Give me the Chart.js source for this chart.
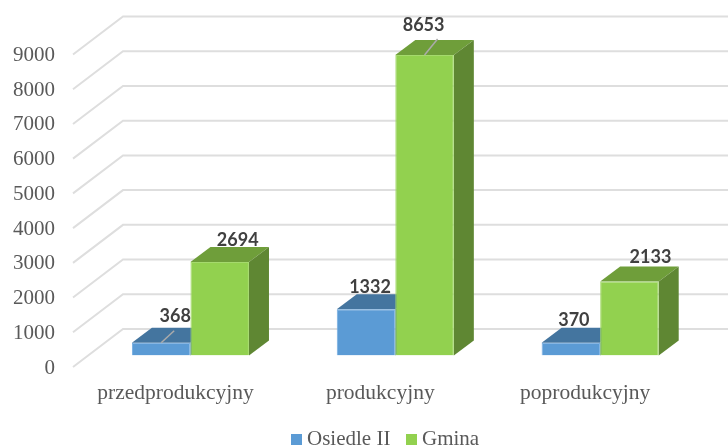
<!DOCTYPE html>
<html><head><meta charset="utf-8">
<style>html,body{margin:0;padding:0;background:#fff;overflow:hidden}#w{width:728px;height:446px}</style>
<script src="https://cdn.jsdelivr.net/npm/chart.js@4"></script></head>
<body><div id="w"><canvas id="c" width="728" height="446"></canvas></div>
<script>
const categories = ['przedprodukcyjny', 'produkcyjny', 'poprodukcyjny'];
const osiedle = [368, 1332, 370];
const gmina = [2694, 8653, 2133];
const seriesNames = ['Osiedle II', 'Gmina'];
const labelNudge = [
  [[14, -27], [4, -22], [3, -22]],
  [[18, -22], [-1, -30], [21, -24]]
];
const leaders = [[12, 0, 0], [0, 16, 0]];
const DX = 20, DY = -15;
const FACES = [{top:'#44759f', side:'#44759f'}, {top:'#6f9e3a', side:'#5f8733'}];
const SERIF = '"Liberation Serif", serif';

const cube = {
  id: 'cube',
  beforeDatasetsDraw(chart) {
    const ctx = chart.ctx, y = chart.scales.y;
    ctx.save();
    ctx.strokeStyle = '#dedede'; ctx.lineWidth = 2;
    y.ticks.forEach(t => {
      const p = y.getPixelForValue(t.value);
      ctx.beginPath();
      ctx.moveTo(73, p + 11.5);
      ctx.lineTo(123, p - 26.5);
      ctx.lineTo(728, p - 26.5);
      ctx.stroke();
    });
    chart.data.datasets.forEach((d, i) => {
      chart.getDatasetMeta(i).data.forEach(b => {
        const l = b.x - b.width / 2, r = b.x + b.width / 2, t = b.y, base = b.base;
        ctx.fillStyle = FACES[i].top;
        ctx.beginPath();
        ctx.moveTo(l, t); ctx.lineTo(l + DX, t + DY); ctx.lineTo(r + DX, t + DY); ctx.lineTo(r, t);
        ctx.closePath(); ctx.fill();
        ctx.fillStyle = FACES[i].side;
        ctx.beginPath();
        ctx.moveTo(r, t); ctx.lineTo(r + DX, t + DY); ctx.lineTo(r + DX, base + DY); ctx.lineTo(r, base);
        ctx.closePath(); ctx.fill();
      });
    });
    ctx.restore();
  },
  afterDatasetsDraw(chart) {
    const ctx = chart.ctx;
    ctx.save();
    chart.data.datasets.forEach((d, i) => {
      chart.getDatasetMeta(i).data.forEach((b, j) => {
        if (leaders[i][j]) {
          ctx.strokeStyle = '#ababab'; ctx.lineWidth = 1.5;
          ctx.beginPath();
          ctx.moveTo(b.x, b.y);
          ctx.lineTo(b.x + 13, b.y - leaders[i][j]);
          ctx.stroke();
        }
        const [nx, ny] = labelNudge[i][j];
        ctx.fillStyle = '#404040';
        ctx.font = 'bold 18px Lato, "Open Sans", sans-serif';
        ctx.textAlign = 'center'; ctx.textBaseline = 'middle';
        ctx.fillText(String(d.data[j]), b.x + nx, b.y + ny);
      });
    });
    ctx.restore();
  },
  afterDraw(chart) {
    const ctx = chart.ctx;
    ctx.save();
    ctx.font = '21px ' + SERIF;
    ctx.textBaseline = 'middle';
    let x = 291;
    chart.data.datasets.forEach(d => {
      ctx.fillStyle = d.backgroundColor;
      ctx.fillRect(x, 434, 11, 11);
      ctx.fillStyle = '#595959';
      ctx.fillText(d.label, x + 16, 439);
      x += 115;
    });
    ctx.restore();
  }
};

new Chart(document.getElementById('c'), {
  type: 'bar',
  plugins: [cube],
  data: {
    labels: categories,
    datasets: [
      {label: seriesNames[0], data: osiedle, backgroundColor: '#5b9bd5', borderColor: '#74ace0', borderWidth: 1},
      {label: seriesNames[1], data: gmina, backgroundColor: '#92d14f', borderColor: '#a5da6d', borderWidth: 1}
    ]
  },
  options: {
    responsive: false,
    animation: false,
    layout: {padding: {left: 0, right: 25.4, top: 43, bottom: 0}},
    datasets: {bar: {categoryPercentage: 0.5715, barPercentage: 1}},
    plugins: {tooltip: {enabled: false}, legend: {display: false}},
    scales: {
      x: {
        grid: {display: false, drawTicks: false}, border: {display: false},
        afterFit: s => { s.height = 90.5; },
        ticks: {labelOffset: -15, padding: 25, color: '#595959', maxRotation: 0,
                font: {family: SERIF, size: 21.5}}
      },
      y: {
        min: 0, max: 9000,
        grid: {display: false, drawTicks: false}, border: {display: false},
        afterFit: s => { s.width = 88; s.paddingTop = 0; s.paddingBottom = 0; },
        ticks: {stepSize: 1000, labelOffset: 12.5, padding: 33, color: '#595959',
                callback: v => String(v),
                font: {family: SERIF, size: 21}}
      }
    }
  }
});
</script></body></html>
